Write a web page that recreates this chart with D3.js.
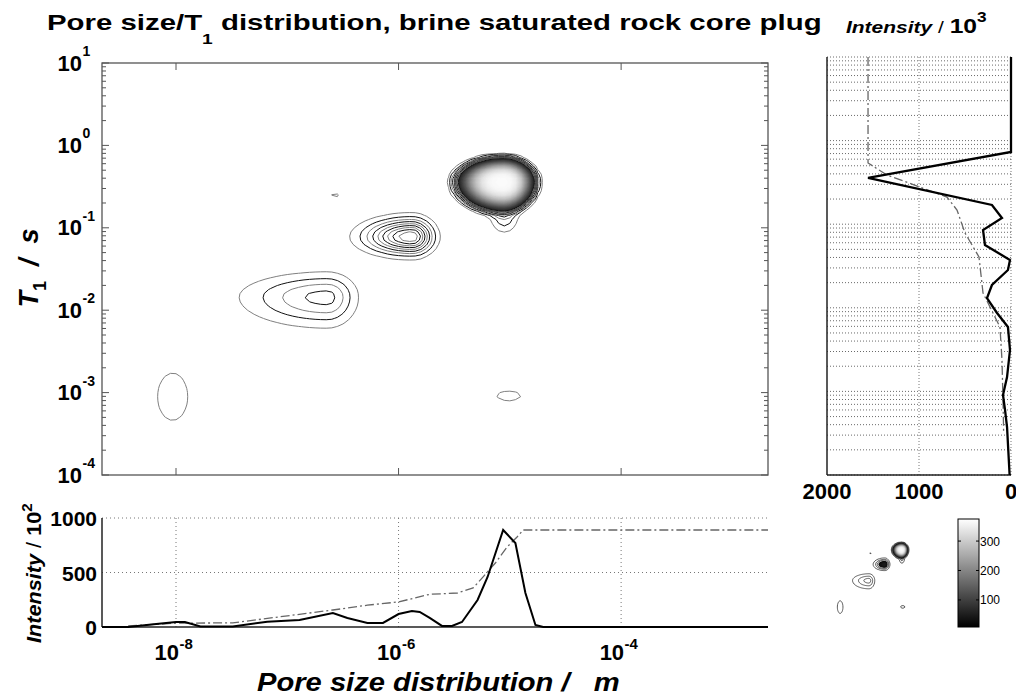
<!DOCTYPE html>
<html>
<head>
<meta charset="utf-8">
<script src="https://cdn.jsdelivr.net/npm/d3@7"></script>
<style>
body { margin: 0; background: #fff; }
svg { display: block; font-family: "Liberation Sans", Arial, sans-serif; }
</style>
</head>
<body>
<svg id="fig" width="1016" height="696"></svg>
<script>
// data ---------------------------------------------------------------

// bottom panel: pore size projection (log10 pore size / intensity in 10^2)
var poreLog = [-8.665, -8.43, -8.2, -8.0, -7.92, -7.78, -7.49, -7.18, -6.89, -6.59, -6.46, -6.28, -6.14, -6.0, -5.88, -5.81, -5.72, -5.61, -5.52, -5.43, -5.29, -5.2, -5.06, -4.95, -4.86, -4.77, -4.7, -2.68];
var poreInt = [0, 0, 25, 46, 46, 5, 5, 49, 64, 128, 83, 37, 37, 119, 147, 138, 83, 10, 10, 46, 248, 459, 890, 770, 312, 18, 0, 0];
var poreCumLog = [-8.43, -8.0, -7.49, -6.59, -6.28, -6.0, -5.72, -5.47, -5.33, -5.24, -5.13, -5.025, -4.935, -4.88, -2.68];
var poreCum = [10, 35, 38, 156, 200, 230, 300, 312, 358, 460, 587, 734, 826, 890, 890];

// right panel: T1 projection (log10 T1 / intensity in 10^3)
var t1Log = [1, -0.136, -0.447, -0.77, -0.926, -1.069, -1.249, -1.428, -1.548, -1.727, -1.883, -2.062, -2.23, -2.505, -2.828, -3.043, -3.222, -3.426, -4];
var t1Int = [0, 0, 1554, 207, 98, 304, 283, 11, 33, 207, 261, 152, 33, 11, 43, 87, 65, 43, 15];
var t1CumLog = [1, -0.268, -0.411, -0.675, -0.83, -1.105, -1.392, -1.823, -2.23, -2.624, -3.103, -3.5];
var t1Cum = [1554, 1554, 1348, 696, 587, 500, 348, 304, 120, 98, 87, 80];

// peaks of the 2D map (log10 pore size, log10 T1, height, spreads in decades)
var peakPore = [-5.06, -5.05, -5.88, -6.64, -8.03, -5.01, -6.57];
var peakT1 = [-0.44, -0.88, -1.11, -1.84, -3.05, -3.04, -0.61];
var peakHeight = [370, 14, 50, 22, 7, 6, 5.6];
var peakLeft = [0.29, 0.08, 0.26, 0.46, 0.165, 0.18, 0.07];
var peakRight = [0.2, 0.08, 0.117, 0.162, 0.165, 0.18, 0.07];
var peakUp = [0.2, 0.1, 0.136, 0.177, 0.35, 0.1, 0.07];
var peakDown = [0.25, 0.12, 0.13, 0.219, 0.35, 0.1, 0.07];
var peakShape = [4, 2, 2, 2, 2, 2, 2];

var lineLevels = d3.range(5, 61, 5);
var colorTicks = [100, 200, 300];
var xTickExp = [-8, -6, -4];
var yTickExp = [1, 0, -1, -2, -3, -4];

// setup --------------------------------------------------------------

var svg = d3.select("#fig");
var pw = v => Math.pow(10, v);

var xMain = d3.scaleLog().domain([pw(-8.665), pw(-2.68)]).range([102, 768]);
var yMain = d3.scaleLog().domain([1e-4, 10]).range([475, 63]);
var yBot = d3.scaleLinear().domain([0, 1000]).range([627, 518]);
var xRight = d3.scaleLinear().domain([0, 2000]).range([1011, 827]);
var yRight = d3.scaleLog().domain([1e-4, 10]).range([475, 57]);
var xThumb = d3.scaleLog().domain(xMain.domain()).range([827, 951]);
var yThumb = d3.scaleLog().domain(yMain.domain()).range([628, 518]);
var gray = d3.scaleLinear().domain([8, 375]).range(["#000", "#fff"]).clamp(true);

// map grid
var step = 0.05, gx0 = -8.7, gy0 = -4.0;
var nx = 123, ny = 101;
var grid = new Array(nx * ny);
for (let j = 0; j < ny; j++) {
	for (let i = 0; i < nx; i++) {
		let lp = gx0 + i * step, lt = gy0 + j * step, v = 0;
		for (let k = 0; k < peakPore.length; k++) {
			let dx = lp - peakPore[k], dy = lt - peakT1[k];
			let sx = dx < 0 ? peakLeft[k] : peakRight[k];
			let sy = dy < 0 ? peakDown[k] : peakUp[k];
			let r2 = (dx / sx) * (dx / sx) + (dy / sy) * (dy / sy);
			v += peakHeight[k] * Math.exp(-0.5 * Math.pow(r2, peakShape[k] / 2));
		}
		grid[j * nx + i] = v;
	}
}

function gridPath(xs, ys) {
	return d3.geoPath(d3.geoTransform({
		point: function (x, y) {
			this.stream.point(xs(pw(gx0 + (x - 0.5) * step)), ys(pw(gy0 + (y - 0.5) * step)));
		}
	}));
}

// squeeze/stretch a text horizontally to a measured width
function fitText(t, x, w) {
	var bb = t.node().getBBox();
	t.attr("transform", `translate(${x},0) scale(${w / bb.width},1) translate(${-bb.x},0)`);
}

// main map -----------------------------------------------------------

svg.append("clipPath").attr("id", "clipMain")
	.append("rect").attr("x", 102).attr("y", 63).attr("width", 666).attr("height", 412);

var gMap = svg.append("g").attr("clip-path", "url(#clipMain)");
var pathMain = gridPath(xMain, yMain);

var fills = d3.contours().size([nx, ny]).thresholds(d3.range(60, 376, 3))(grid);
gMap.selectAll("path.fill").data(fills).enter().append("path")
	.attr("class", "fill")
	.attr("d", pathMain)
	.attr("fill", d => gray(d.value))
	.attr("stroke", "none");

var lines = d3.contours().size([nx, ny]).thresholds(lineLevels)(grid);
gMap.selectAll("path.line").data(lines).enter().append("path")
	.attr("class", "line")
	.attr("d", pathMain)
	.attr("fill", "none")
	.attr("stroke", (d, i) => i % 2 ? "#111" : "#808080")
	.attr("stroke-width", 1);

// box and ticks
svg.append("rect").attr("x", 102).attr("y", 63).attr("width", 666).attr("height", 412)
	.attr("fill", "none").attr("stroke", "#555").attr("stroke-width", 1.3);

yMain.ticks().forEach(function (t) {
	var major = Math.abs(Math.log10(t) - Math.round(Math.log10(t))) < 1e-6;
	var len = major ? 7 : 4, y = yMain(t);
	svg.append("line").attr("x1", 102).attr("x2", 102 + len).attr("y1", y).attr("y2", y)
		.attr("stroke", "#555").attr("stroke-width", 1);
	svg.append("line").attr("x1", 768 - len).attr("x2", 768).attr("y1", y).attr("y2", y)
		.attr("stroke", "#555").attr("stroke-width", 1);
});
xTickExp.forEach(function (e) {
	var x = xMain(pw(e));
	svg.append("line").attr("x1", x).attr("x2", x).attr("y1", 63).attr("y2", 70).attr("stroke", "#555");
	svg.append("line").attr("x1", x).attr("x2", x).attr("y1", 468).attr("y2", 475).attr("stroke", "#555");
});

yTickExp.forEach(function (e) {
	var y = yMain(pw(e));
	svg.append("text").attr("x", 82).attr("y", y + 7.5).attr("text-anchor", "end")
		.attr("font-size", 22).attr("font-weight", "bold").text("10");
	svg.append("text").attr("x", 82.5).attr("y", y - 7).attr("text-anchor", "start")
		.attr("font-size", 14).attr("font-weight", "bold").text(e);
});

// y label: T1 / s
var yl = svg.append("text").attr("y", 0).attr("font-size", 27).attr("font-weight", "bold")
	.attr("font-style", "italic").style("white-space", "pre");
yl.append("tspan").text("T");
yl.append("tspan").attr("font-size", 18).attr("dy", 8).attr("font-style", "normal").text("1");
yl.append("tspan").attr("dy", -8).text("  /  s");
var ylb = yl.node().getBBox();
yl.attr("transform", `translate(38,268) rotate(-90) translate(${-ylb.x - ylb.width / 2},0)`);

// title
var title = svg.append("text").attr("y", 30).attr("font-size", 23).attr("font-weight", "bold")
	.style("white-space", "pre");
title.append("tspan").text("Pore size/T");
title.append("tspan").attr("font-size", 15).attr("dy", 14).text("1");
title.append("tspan").attr("dy", -14).text(" distribution, brine saturated rock core plug");
fitText(title, 47, 775);

// bottom panel -------------------------------------------------------

[500, 1000].forEach(function (v) {
	svg.append("line").attr("x1", 102).attr("x2", 768).attr("y1", yBot(v)).attr("y2", yBot(v))
		.attr("stroke", "#777").attr("stroke-dasharray", "1,3");
});
xTickExp.forEach(function (e) {
	var x = xMain(pw(e));
	svg.append("line").attr("x1", x).attr("x2", x).attr("y1", 518).attr("y2", 627)
		.attr("stroke", "#777").attr("stroke-dasharray", "1,3");
});
svg.append("line").attr("x1", 102).attr("x2", 102).attr("y1", 518).attr("y2", 627)
	.attr("stroke", "#222").attr("stroke-width", 1.5);
svg.append("line").attr("x1", 102).attr("x2", 768).attr("y1", 627).attr("y2", 627)
	.attr("stroke", "#222").attr("stroke-width", 1.5);

var lineBot = d3.line().x(d => xMain(pw(d[0]))).y(d => yBot(d[1]));
svg.append("path").datum(d3.zip(poreCumLog, poreCum)).attr("d", lineBot)
	.attr("fill", "none").attr("stroke", "#666").attr("stroke-width", 1.3)
	.attr("stroke-dasharray", "9,3,2,3");
svg.append("path").datum(d3.zip(poreLog, poreInt)).attr("d", lineBot)
	.attr("fill", "none").attr("stroke", "#000").attr("stroke-width", 2);

[0, 500, 1000].forEach(function (v) {
	svg.append("text").attr("x", 97).attr("y", yBot(v) + 8).attr("text-anchor", "end")
		.attr("font-size", 21).attr("font-weight", "bold").text(v);
});
xTickExp.forEach(function (e) {
	var x = xMain(pw(e));
	svg.append("text").attr("x", x + 3).attr("y", 660).attr("text-anchor", "end")
		.attr("font-size", 22).attr("font-weight", "bold").text("10");
	svg.append("text").attr("x", x + 3.5).attr("y", 649).attr("text-anchor", "start")
		.attr("font-size", 15).attr("font-weight", "bold").text(e);
});

// x label
var xl = svg.append("text").attr("y", 691).attr("font-size", 26).attr("font-weight", "bold")
	.attr("font-style", "italic").style("white-space", "pre")
	.text("Pore size distribution /   m");
fitText(xl, 257, 363);

// y label of bottom panel
var bl = svg.append("text").attr("y", 0).attr("font-size", 20).attr("font-weight", "bold")
	.style("white-space", "pre");
bl.append("tspan").attr("font-style", "italic").text("Intensity");
bl.append("tspan").attr("font-weight", "normal").text(" / ");
bl.append("tspan").text("10");
bl.append("tspan").attr("font-size", 14).attr("dy", -9).text("2");
var blb = bl.node().getBBox();
bl.attr("transform", `translate(41,573) rotate(-90) scale(${140 / blb.width},1) translate(${-blb.x - blb.width / 2},0)`);

// right panel --------------------------------------------------------

yRight.ticks().forEach(function (t) {
	svg.append("line").attr("x1", 827).attr("x2", 1011).attr("y1", yRight(t)).attr("y2", yRight(t))
		.attr("stroke", "#444").attr("stroke-width", 0.8).attr("stroke-dasharray", "1,2");
});
[1000, 0].forEach(function (v) {
	svg.append("line").attr("x1", xRight(v)).attr("x2", xRight(v)).attr("y1", 57).attr("y2", 475)
		.attr("stroke", "#555").attr("stroke-width", 0.8).attr("stroke-dasharray", "1,2");
});
svg.append("line").attr("x1", 827).attr("x2", 827).attr("y1", 57).attr("y2", 475)
	.attr("stroke", "#222").attr("stroke-width", 1.5);
svg.append("line").attr("x1", 827).attr("x2", 1011).attr("y1", 475).attr("y2", 475)
	.attr("stroke", "#222").attr("stroke-width", 1.5);

var lineRight = d3.line().x(d => xRight(d[1])).y(d => yRight(pw(d[0])));
svg.append("path").datum(d3.zip(t1CumLog, t1Cum)).attr("d", lineRight)
	.attr("fill", "none").attr("stroke", "#666").attr("stroke-width", 1.3)
	.attr("stroke-dasharray", "9,3,2,3");
svg.append("path").datum(d3.zip(t1Log, t1Int)).attr("d", lineRight)
	.attr("fill", "none").attr("stroke", "#000").attr("stroke-width", 2.3);

[2000, 1000, 0].forEach(function (v) {
	svg.append("text").attr("x", xRight(v)).attr("y", 499).attr("text-anchor", "middle")
		.attr("font-size", 22).attr("font-weight", "bold").text(v);
});

var il = svg.append("text").attr("y", 33).attr("font-size", 17).attr("font-weight", "bold")
	.style("white-space", "pre");
il.append("tspan").attr("font-style", "italic").text("Intensity");
il.append("tspan").attr("font-weight", "normal").text(" / ");
il.append("tspan").attr("font-size", 20).text("10");
il.append("tspan").attr("font-size", 14).attr("dy", -11).text("3");
fitText(il, 846, 141);

// thumbnail map and colour bar ---------------------------------------

var pathThumb = gridPath(xThumb, yThumb);
var gThumb = svg.append("g");
gThumb.selectAll("path.fill").data(d3.contours().size([nx, ny]).thresholds(d3.range(25, 376, 4))(grid))
	.enter().append("path")
	.attr("d", pathThumb)
	.attr("fill", d => gray(d.value));
gThumb.selectAll("path.line").data(d3.contours().size([nx, ny]).thresholds([5, 12, 19])(grid))
	.enter().append("path")
	.attr("d", pathThumb)
	.attr("fill", "none").attr("stroke", "#333").attr("stroke-width", 0.8);

var cb = d3.scaleLinear().domain([8, 375]).range([627, 519]);
var grad = svg.append("defs").append("linearGradient").attr("id", "cbar")
	.attr("x1", 0).attr("y1", 1).attr("x2", 0).attr("y2", 0);
grad.append("stop").attr("offset", 0).attr("stop-color", "#000");
grad.append("stop").attr("offset", 1).attr("stop-color", "#fff");
svg.append("rect").attr("x", 958).attr("y", cb(375)).attr("width", 21).attr("height", cb(8) - cb(375))
	.attr("fill", "url(#cbar)").attr("stroke", "#000").attr("stroke-width", 1);
colorTicks.forEach(function (v) {
	svg.append("line").attr("x1", 958).attr("x2", 961).attr("y1", cb(v)).attr("y2", cb(v)).attr("stroke", "#000");
	svg.append("line").attr("x1", 976).attr("x2", 979).attr("y1", cb(v)).attr("y2", cb(v)).attr("stroke", "#000");
	svg.append("text").attr("x", 980).attr("y", cb(v) + 4.5).attr("font-size", 12).text(v);
});
</script>
</body>
</html>
